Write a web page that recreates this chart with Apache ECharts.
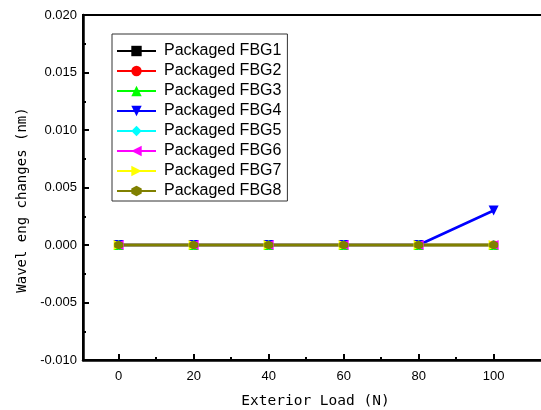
<!DOCTYPE html>
<html>
<head>
<meta charset="utf-8">
<script src="https://cdn.jsdelivr.net/npm/echarts@6/dist/echarts.min.js"></script>
<style>
  html, body { margin: 0; padding: 0; background: #fff; }
  #chart { width: 541px; height: 410px; }
</style>
</head>
<body>
<div id="chart"></div>
<script>
  // 外部载荷 (N)
  const loads = [0, 20, 40, 60, 80, 100]
  const names = ['Packaged FBG1', 'Packaged FBG2', 'Packaged FBG3', 'Packaged FBG4',
                 'Packaged FBG5', 'Packaged FBG6', 'Packaged FBG7', 'Packaged FBG8']
  const fbg1 = [0, 0, 0, 0, 0, 0]
  const fbg2 = [0, 0, 0, 0, 0, 0]
  const fbg3 = [0, 0, 0, 0, 0, 0]
  const fbg4 = [0, 0, 0, 0, 0, 0.003]
  const fbg5 = [0, 0, 0, 0, 0, 0]
  const fbg6 = [0, 0, 0, 0, 0, 0]
  const fbg7 = [0, 0, 0, 0, 0, 0]
  const fbg8 = [0, 0, 0, 0, 0, 0]
  const xMajorTicks = [0, 20, 40, 60, 80, 100]
  const xMinorTicks = [10, 30, 50, 70, 90]

  const values = [fbg1, fbg2, fbg3, fbg4, fbg5, fbg6, fbg7, fbg8]
  const colors = ['#000000', '#ff0000', '#00ff00', '#0000ff', '#00ffff', '#ff00ff', '#ffff00', '#808000']
  const hexagon = 'path://M0,-1L0.866,-0.5L0.866,0.5L0,1L-0.866,0.5L-0.866,-0.5Z'
  const symbols = ['rect', 'circle', 'triangle', 'triangle', 'diamond', 'triangle', 'triangle', hexagon]
  const rotates = [0, 0, 0, 180, 0, 90, -90, 0]
  const sizes = [8, 9, 10, 10, 10, 10, 10, 9]

  const target = document.getElementById('chart')
  const mChart = echarts.init(target)

  const series = values.map((v, i) => ({
    name: names[i],
    type: 'line',
    xAxisIndex: 0,
    data: v.map((y, j) => [loads[j], y]),
    symbol: symbols[i],
    symbolRotate: rotates[i],
    symbolSize: sizes[i],
    showAllSymbol: true,
    animation: false,
    itemStyle: { color: colors[i] },
    lineStyle: { color: colors[i], width: 2.5 }
  }))

  const option = {
    backgroundColor: '#fff',
    grid: {
      left: 83,
      top: 15,
      width: 465,
      height: 345,
      outerBoundsMode: 'none',
      containLabel: false,
      show: true,
      borderColor: '#000',
      borderWidth: 2
    },
    legend: {
      orient: 'vertical',
      left: 112,
      top: 34,
      padding: [9, 6, 2, 4],
      itemWidth: 39,
      itemHeight: 13,
      itemGap: 4,
      borderColor: '#333',
      borderWidth: 1,
      textStyle: {
        fontFamily: 'Liberation Sans, Arial',
        fontSize: 16,
        lineHeight: 16,
        color: '#000',
        padding: [0, 0, 0, 3]
      },
      data: names
    },
    xAxis: [{
      type: 'value',
      min: -9.5,
      max: 114.5,
      name: 'Exterior Load (N)',
      nameLocation: 'middle',
      nameGap: 34,
      nameTextStyle: { fontFamily: 'DejaVu Sans Mono', fontSize: 14.5, color: '#000' },
      axisLine: { onZero: false, lineStyle: { color: '#000', width: 2.5 } },
      axisTick: { inside: true, length: 6, customValues: xMajorTicks, lineStyle: { color: '#000', width: 2 } },
      axisLabel: { customValues: xMajorTicks, color: '#000', fontFamily: 'Liberation Sans, Arial', fontSize: 13, margin: 10 },
      splitLine: { show: false }
    }, {
      type: 'value',
      min: -9.5,
      max: 114.5,
      position: 'bottom',
      axisLine: { show: false, onZero: false },
      axisTick: { inside: true, length: 3, customValues: xMinorTicks, lineStyle: { color: '#000', width: 2 } },
      axisLabel: { show: false },
      splitLine: { show: false }
    }],
    yAxis: {
      type: 'value',
      min: -0.01,
      max: 0.02,
      interval: 0.005,
      name: 'Wavel eng changes (nm)',
      nameLocation: 'middle',
      nameGap: 54,
      nameTextStyle: { fontFamily: 'DejaVu Sans Mono', fontSize: 14, color: '#000', padding: [0, 25, 0, 0] },
      axisLine: { onZero: false, lineStyle: { color: '#000', width: 2.5 } },
      axisTick: { inside: true, length: 6, lineStyle: { color: '#000', width: 2 } },
      minorTick: { show: true, splitNumber: 2, length: 3, lineStyle: { color: '#000', width: 2 } },
      axisLabel: {
        color: '#000',
        fontFamily: 'Liberation Sans, Arial',
        fontSize: 13,
        margin: 6,
        formatter: (v) => v.toFixed(3)
      },
      splitLine: { show: false }
    },
    series: series
  }
  mChart.setOption(option)
  window.addEventListener('resize', function() {
    mChart.resize()
  })
</script>
</body>
</html>
